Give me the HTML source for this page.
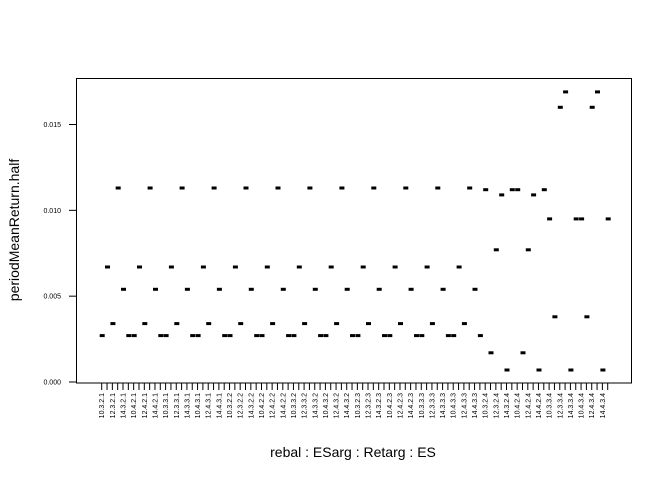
<!DOCTYPE html>
<html><head><meta charset="utf-8"><style>body{margin:0;background:#fff}svg{display:block;font-family:"Liberation Sans",Arial,sans-serif}</style></head>
<body>
<svg id="chart" width="672" height="480" viewBox="0 0 672 480">
<rect x="76.5" y="78.5" width="555" height="304.5" fill="none" stroke="#000" stroke-width="1"/>
<g id="marks"></g>
<g id="xaxis"></g>
<g id="yaxis"></g>
<text x="353" y="457" font-size="14" text-anchor="middle">rebal : ESarg : Retarg : ES</text>
<text transform="translate(19,230) rotate(-90)" font-size="14" text-anchor="middle">periodMeanReturn.half</text>
</svg>
<script>
const rebalLevels = [10, 11, 12, 13, 14, 15];
const esargLevels = [3, 4];
const retargLevels = [2, 3];
const esLevels = [1, 2, 3, 4];
const baseValues = [0.0027, 0.0067, 0.0034, 0.0113, 0.0054, 0.0027];
const es4Retarg2Values = [0.0112, 0.0017, 0.0077, 0.0109, 0.0007, 0.0112];
const es4Retarg3Values = [0.0095, 0.0038, 0.0160, 0.0169, 0.0007, 0.0095];
const yTicks = [0, 0.005, 0.010, 0.015];
const yTickLabels = ["0.000", "0.005", "0.010", "0.015"];

const categories = [], values = [];
esLevels.forEach(es => retargLevels.forEach(rt => esargLevels.forEach(ea => rebalLevels.forEach((rb, ri) => {
  categories.push(rb + "." + ea + "." + rt + "." + es);
  let v = baseValues[ri];
  if (es === 4) v = rt === 2 ? es4Retarg2Values[ri] : es4Retarg3Values[ri];
  values.push(v);
}))));

const NS = "http://www.w3.org/2000/svg";
const x0 = 101.7, x1 = 607.7;
function xPos(i) { return x0 + i * (x1 - x0) / (categories.length - 1); }
function yPos(v) { return 382 - v * 17167; }

const marks = document.getElementById("marks");
const xaxis = document.getElementById("xaxis");
const yaxis = document.getElementById("yaxis");

categories.forEach((c, i) => {
  const x = xPos(i);
  const r = document.createElementNS(NS, "rect");
  r.setAttribute("x", (x - 2).toFixed(1));
  r.setAttribute("y", (yPos(values[i]) - 1.5).toFixed(1));
  r.setAttribute("width", 5);
  r.setAttribute("height", 3);
  r.setAttribute("fill", "#000");
  
  
  marks.appendChild(r);

  const t = document.createElementNS(NS, "line");
  t.setAttribute("x1", x); t.setAttribute("x2", x);
  t.setAttribute("y1", 383); t.setAttribute("y2", 390);
  t.setAttribute("stroke", "#000");
  
  
  xaxis.appendChild(t);

  if (i % 2 === 0) {
    const l = document.createElementNS(NS, "text");
    l.setAttribute("transform", "translate(" + (x + 2.5).toFixed(1) + ",393) rotate(-90)");
    l.setAttribute("font-size", "7");
    l.setAttribute("text-anchor", "end");
    l.textContent = c;
    
    
    xaxis.appendChild(l);
  }
});
const xl = document.createElementNS(NS, "line");
xl.setAttribute("x1", x0); xl.setAttribute("x2", x1);
xl.setAttribute("y1", 383); xl.setAttribute("y2", 383);
xl.setAttribute("stroke", "#000");


xaxis.appendChild(xl);

yTicks.forEach((v, i) => {
  const y = yPos(v);
  const t = document.createElementNS(NS, "line");
  t.setAttribute("x1", 69); t.setAttribute("x2", 76.5);
  t.setAttribute("y1", y); t.setAttribute("y2", y);
  t.setAttribute("stroke", "#000");
  
  
  yaxis.appendChild(t);
  const l = document.createElementNS(NS, "text");
  l.setAttribute("x", 61); l.setAttribute("y", y + 2.5);
  l.setAttribute("font-size", "7");
  l.setAttribute("text-anchor", "end");
  l.textContent = yTickLabels[i];
  
  
  yaxis.appendChild(l);
});
const yl = document.createElementNS(NS, "line");
yl.setAttribute("x1", 76.5); yl.setAttribute("x2", 76.5);
yl.setAttribute("y1", yPos(0)); yl.setAttribute("y2", yPos(0.015));
yl.setAttribute("stroke", "#000");


yaxis.appendChild(yl);
</script>
</body></html>
